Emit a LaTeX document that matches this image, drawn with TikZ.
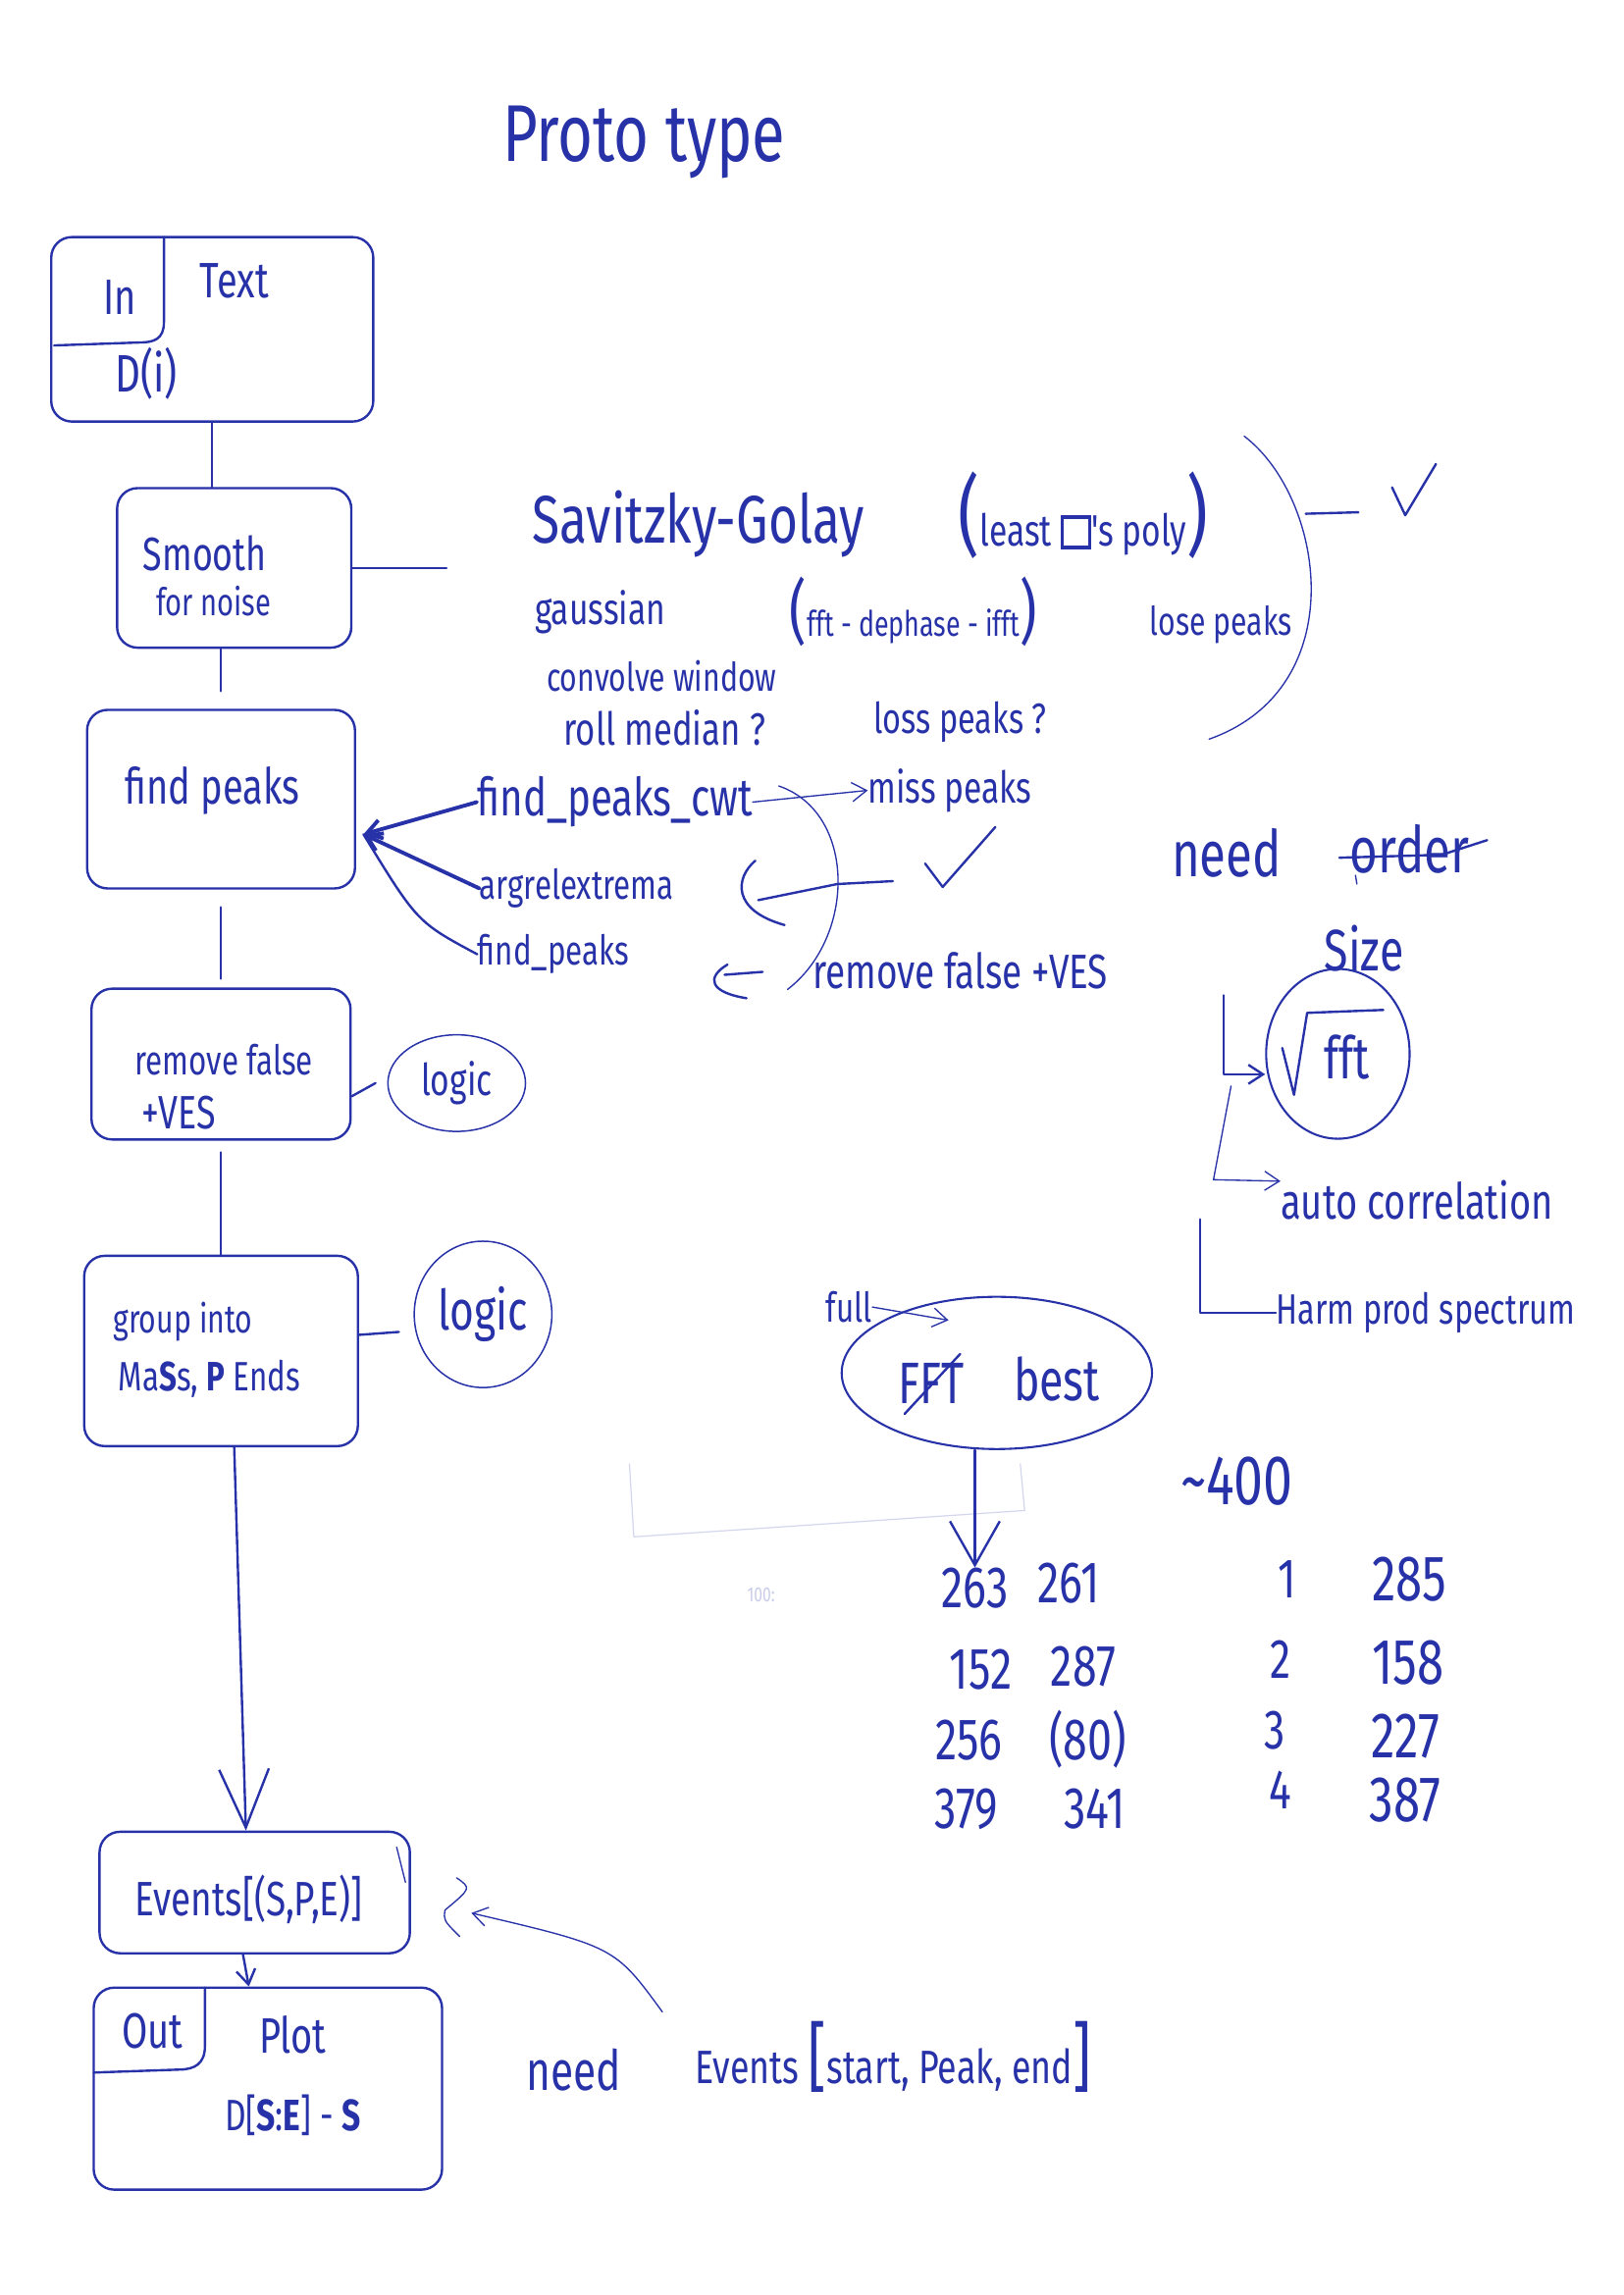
\documentclass[tikz,border=0pt]{standalone}
\usepackage{fontspec}
\usetikzlibrary{shapes.geometric,arrows.meta,calc}
\newfontfamily\handfont[FakeStretch=0.75]{Fira Sans}
\newcommand\hs[1]{\handfont\fontsize{#1}{#1}\selectfont}
\newcommand\sqmark{{\setlength\fboxrule{2.2pt}\setlength\fboxsep{0pt}\fbox{\rule{0pt}{0.62em}\hspace{0.55em}}}}
\definecolor{ink}{RGB}{40,50,168}

\begin{document}
\begin{tikzpicture}[x=1pt,y=-1pt,
  pen/.style={draw=ink, line width=1.6pt, line cap=round, line join=round},
  fine/.style={draw=ink, line width=0.9pt, line cap=round, line join=round},
  faint/.style={draw=ink!20, line width=0.8pt},
  box/.style={draw=ink, line width=1.6pt, rectangle, rounded corners=14pt, inner sep=0pt},
  blob/.style={draw=ink, line width=1pt, ellipse, inner sep=0pt},
  hw/.style={text=ink, inner sep=0pt},
  tip/.style={-{Straight Barb[length=10pt,width=13pt]}},
]
\useasboundingbox (0,0) rectangle (1109,1568);
\fill[white] (0,0) rectangle (1109,1568);

% title
\node[hw, font=\hs{55}] (title) at (440,97) {Proto type};

% ---------- main pipeline ----------
\node[box, minimum width=220pt, minimum height=126pt] (b1) at (145,225) {};
\node[hw, font=\hs{34}] (tin) at (82,203) {In};
\node[hw, font=\hs{34}] (ttext) at (160,192) {Text};
\node[hw, font=\hs{36}] (tdi) at (100,255) {D(i)};
\draw[pen] (112,162) -- (112,220) .. controls (112,232) and (105,234) .. (95,234) -- (37,236);

\node[box, minimum width=160pt, minimum height=109pt] (b2) at (160,388) {};
\node[hw, font=\hs{32}] (tsm) at (140,378) {Smooth};
\node[hw, font=\hs{26}] (tfn) at (146,411) {for noise};

\node[box, minimum width=183pt, minimum height=122pt] (b3) at (151,546) {};
\node[hw, font=\hs{34}] (tfp) at (145,540) {find peaks};

\node[box, minimum width=177pt, minimum height=103pt] (b4) at (151,727) {};
\node[hw, font=\hs{28}] (trf) at (153,724) {remove false};
\node[hw, font=\hs{32}] (tve) at (122,760) {+VES};

\node[box, minimum width=187pt, minimum height=130pt] (b5) at (151,923) {};
\node[hw, font=\hs{27}] (tgi) at (125,903) {group into};
\node[hw, font=\hs{28}] (tms) at (143,942) {Ma\textbf{S}s, \textbf{P} Ends};

\node[box, minimum width=212pt, minimum height=83pt] (b6) at (174,1293) {};
\node[hw, font=\hs{33}] (tev) at (170,1298) {Events[(S,P,E)]};
\draw[fine] (271,1262) -- (277,1286);

\node[box, minimum width=238pt, minimum height=138pt] (b7) at (183,1427) {};
\node[hw, font=\hs{34}] (tout) at (104,1388) {Out};
\node[hw, font=\hs{34}] (tplot) at (200,1390) {Plot};
\node[hw, font=\hs{30}] (tdse) at (200,1445) {D[\textbf{S}:\textbf{E}] - \textbf{S}};
\draw[pen] (140,1358) -- (140,1398) .. controls (140,1410) and (133,1414) .. (122,1414) -- (64,1416);

% pipeline connectors
\draw[pen] (b1.south) -- (b1.south |- b2.north);
\draw[pen, shorten >=12pt] (b2.south -| b3.north) -- (b3.north);
\draw[pen, shorten <=12pt, shorten >=6pt] (b3.south) -- (b4.north);
\draw[pen, shorten <=8pt] (b4.south) -- (b5.north);
\draw[pen, -{Straight Barb[length=40pt,width=34pt]}] ([xshift=9pt]b5.south) -- ([xshift=-6pt]b6.north);
\draw[pen, tip] ([xshift=-8pt]b6.south) -- ([xshift=-13pt]b7.north);

% logic side notes
\node[blob, minimum width=94pt, minimum height=66pt, font=\hs{30}, text=ink] (l1) at (312,740) {logic};
\node[blob, minimum width=94pt, minimum height=100pt, font=\hs{38}, text=ink] (l2) at (330,898) {logic};
\draw[pen] ([yshift=-22pt]b4.east) -- ([xshift=-8pt]l1.west);
\draw[pen] ([yshift=11pt]b5.east) -- ([xshift=-10pt,yshift=-12pt]l2.west);

% ---------- smoothing options ----------
\coordinate (sgend) at (305,388);
\draw[pen] (b2.east) -- (sgend);
\node[hw, font=\hs{46}] (sg) at (477,358) {Savitzky-Golay};
\node[hw, font=\hs{30}] (lsq) at (740,352) {{\hs{60}(}least \sqmark's poly{\hs{60})}};
\draw[pen] (892,351) -- (928,350);
\draw[pen] (951,333) -- (960,352) -- (981,317);
\node[hw, font=\hs{30}] (gs) at (410,418) {gaussian};
\node[hw, font=\hs{24}] (ffd) at (624,418) {{\hs{48}(}fft - dephase - ifft{\hs{48})}};
\node[hw, font=\hs{27}] (lp1) at (834,427) {lose peaks};
\node[hw, font=\hs{27}] (cw) at (452,462) {convolve window};
\node[hw, font=\hs{31}] (rm) at (454,497) {roll median ?};
\node[hw, font=\hs{29}] (lp2) at (656,493) {loss peaks ?};
\draw[fine] (850,298) .. controls (905,340) and (925,470) .. (826,505);

% ---------- peak finding options ----------
\node[hw, font=\hs{36}] (fpc) at (420,548) {find\_peaks\_cwt};
\node[hw, font=\hs{30}] (mp) at (649,540) {miss peaks};
\node[hw, font=\hs{28}] (are) at (394,607) {argrelextrema};
\node[hw, font=\hs{28}] (fp) at (378,652) {find\_peaks};
\node[hw, font=\hs{33}] (rfv) at (656,663) {remove false +VES};
\coordinate (conv) at ($(b3.east)+(5,24)$);
\draw[pen, line width=2.6pt, tip] (fpc.west) -- (conv);
\draw[pen, line width=2.6pt, tip] (are.west) -- (conv);
\draw[pen] (fp.west) .. controls (285,630) .. (conv);
\draw[fine, tip] (fpc.east) -- (mp.west);
\draw[fine] (532,537) .. controls (585,555) and (585,640) .. (538,676);
\draw[pen] (632,590) -- (644,606) -- (680,565);
\draw[pen] (610,602) -- (572,604) -- (518,615);
\draw[pen] (516,588) .. controls (502,600) and (500,622) .. (536,632);
\draw[pen] (497,659) .. controls (482,668) and (485,678) .. (510,682);
\draw[pen] (495,666) -- (521,664);

% ---------- period estimate options ----------
\node[hw, font=\hs{44}] (need1) at (838,583) {need};
\node[hw, font=\hs{44}] (ord) at (963,580) {order};
\draw[pen] (915,586) -- (985,584) -- (1016,574);
\draw[fine] (926,598) -- (927,604);
\node[hw, font=\hs{40}] (size) at (932,648) {Size};
\node[blob, line width=1.4pt, minimum width=98pt, minimum height=116pt] (fftc) at (914,720) {};
\node[hw, font=\hs{40}] (tfft) at (920,722) {fft};
\draw[pen] (876,716) -- (884,748) -- (893,692) -- (945,690);
\node[hw, font=\hs{34}] (ac) at (968,820) {auto correlation};
\node[hw, font=\hs{29}] (hps) at (974,897) {Harm prod spectrum};
\coordinate (ls1) at (836,680);
\coordinate (ls2) at (841,742);
\coordinate (ls3) at (820,833);
\draw[pen, tip] (ls1) |- ([yshift=-14pt]fftc.west);
\draw[fine, tip] (ls2) -- (829,806) -- ([yshift=13pt]ac.west);
\draw[pen] (ls3) |- (hps.west);

% ---------- FFT choice and results ----------
\node[hw, font=\hs{28}] (full) at (580,893) {full};
\coordinate (fullend) at (648,902);
\draw[fine, tip] (full.east) -- (fullend);
\node[blob, line width=1.4pt, minimum width=212pt, minimum height=104pt] (fb) at (681,938) {};
\node[hw, font=\hs{40}] (tffT) at (636,945) {FFT};
\draw[pen] (618,966) -- (656,925);
\node[hw, font=\hs{40}] (tbest) at (722,942) {best};
\node[hw, font=\hs{48}] (n400) at (845,1012) {\textasciitilde 400};

\draw[faint] (430,1000) -- (433,1050) -- (700,1032) -- (697,1000);
\node[hw, text=ink!25, font=\hs{14}] (f100) at (520,1090) {100:};

\node[hw, font=\hs{40}] (n263) at (666,1085) {263};
\node[hw, font=\hs{40}] (n261) at (730,1082) {261};
\node[hw, font=\hs{40}] (n152) at (670,1141) {152};
\node[hw, font=\hs{40}] (n287) at (740,1139) {287};
\node[hw, font=\hs{40}] (n256) at (662,1189) {256};
\node[hw, font=\hs{40}] (n80) at (743,1188) {(80)};
\node[hw, font=\hs{40}] (n379) at (660,1236) {379};
\node[hw, font=\hs{40}] (n341) at (748,1236) {341};
\node[hw, font=\hs{38}] (k1) at (879,1079) {1};
\node[hw, font=\hs{38}] (k2) at (875,1134) {2};
\node[hw, font=\hs{38}] (k3) at (871,1182) {3};
\node[hw, font=\hs{38}] (k4) at (875,1223) {4};
\node[hw, font=\hs{44}] (n285) at (963,1079) {285};
\node[hw, font=\hs{44}] (n158) at (962,1136) {158};
\node[hw, font=\hs{44}] (n227) at (960,1186) {227};
\node[hw, font=\hs{44}] (n387) at (960,1230) {387};
\draw[pen, -{Straight Barb[length=30pt,width=34pt]}] (fb.south -| n263) -- (n263.north);

% ---------- event format note ----------
\node[hw, font=\hs{38}] (need2) at (392,1414) {need};
\node[hw, font=\hs{32}] (evn) at (610,1405) {Events {\hs{52}[}start, Peak, end{\hs{52}]}};
\coordinate (brc) at (322,1307);
\draw[fine] (312,1283) .. controls (322,1290) .. (304,1305) .. controls (303,1312) .. (314,1323);
\coordinate (evs) at ($(evn.north west)+(-22,-6)$);
\draw[fine, tip] (evs) .. controls (420,1330) .. (brc);

\end{tikzpicture}
\end{document}
